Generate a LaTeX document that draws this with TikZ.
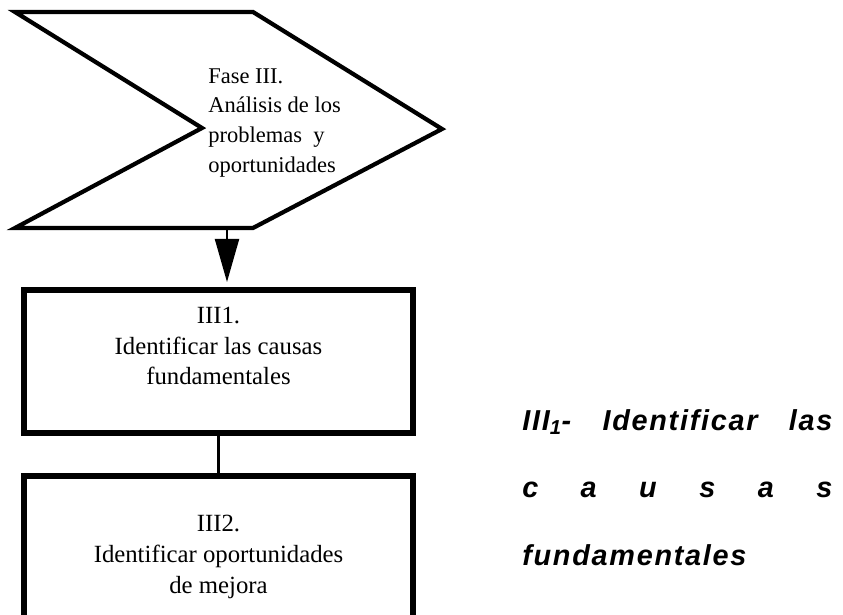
\documentclass[tikz,border=0pt]{standalone}
\usepackage{fontspec}
\setmainfont{Liberation Serif}
\newfontfamily\notafont[LetterSpace=6]{Liberation Sans}
\usetikzlibrary{positioning, arrows.meta}

\begin{document}
\begin{tikzpicture}[
    x=0.025cm, y=-0.025cm,
    caja/.style={rectangle, draw=black, line width=4pt, outer sep=0pt,
        inner sep=0pt, minimum width=9.725cm},
    cajatexto/.style={font=\fontsize{17.6}{21.8}\selectfont, align=center,
        inner sep=0pt},
    flecha/.style={-{Triangle[length=1.075cm, width=0.6cm]}, line width=1.5pt,
        shorten >=0.2cm},
]

% ── Frame ──
\path[use as bounding box] (0,0) rectangle (843,615);
\clip (0,0) rectangle (843,615);

% ══════════════════════════════════════════════
% Fase III (chevron)
% ══════════════════════════════════════════════
\draw[line width=3pt, line join=miter]
    (15,12) -- (253,12) -- (442,129) -- (253,228) -- (15,228) -- (202,128) -- cycle;
\node[font=\fontsize{16}{21.3}\selectfont, align=left, inner sep=0pt,
    anchor=north west] (fasetxt) at (208,68)
    {Fase III.\\An\'alisis de los\\problemas~ y\\oportunidades};
\coordinate (fasebot) at (227,228);

% ══════════════════════════════════════════════
% III1 and III2 boxes
% ══════════════════════════════════════════════
\node[caja, minimum height=3.575cm, anchor=north] (idcausas) at (218.5,290) {};
\node[cajatexto, below=0.425cm of idcausas.north] (idcausastxt)
    {III1.\\Identificar las causas\\fundamentales};

\node[caja, minimum height=5cm, below=1.075cm of idcausas] (idmejora) {};
\node[cajatexto, below=0.975cm of idmejora.north] (idmejoratxt)
    {III2.\\Identificar oportunidades\\de mejora};

% ══════════════════════════════════════════════
% Connectors
% ══════════════════════════════════════════════
\draw[flecha] (fasebot) -- (fasebot |- idcausas.north);
\draw[line width=1.5pt] (idcausas) -- (idmejora);

% ══════════════════════════════════════════════
% Note on the right
% ══════════════════════════════════════════════
\node[font=\notafont\bfseries\itshape\fontsize{20.5}{48}\selectfont,
    text width=7.75cm, align=justify, inner sep=0pt, anchor=north west]
    (nota) at (522,409)
    {III\textsubscript{1}- Identificar las\linebreak c a u s a s\linebreak fundamentales};

\end{tikzpicture}
\end{document}
